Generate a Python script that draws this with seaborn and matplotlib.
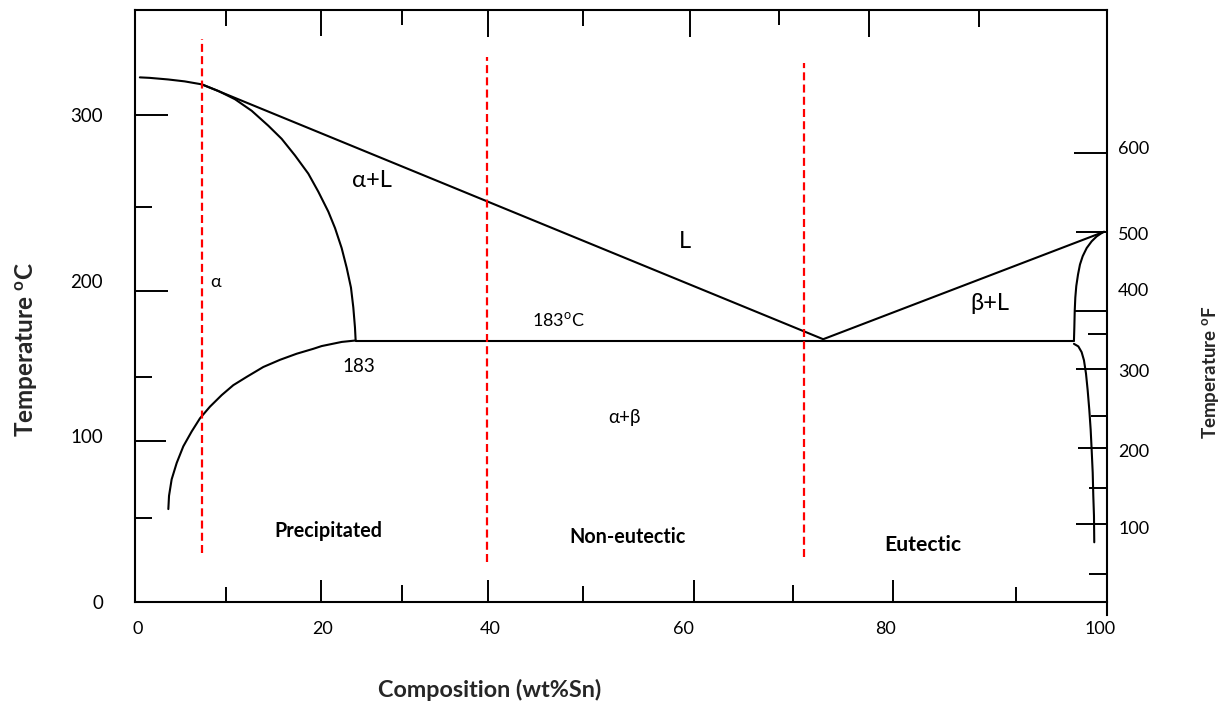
import matplotlib
matplotlib.use("Agg")
import matplotlib.pyplot as plt
import seaborn as sns
import pandas as pd

# ---------------- data (wt% Sn vs temperature scale of the drawing) --------
liq_left_x = [0.5, 1.5, 3.4, 5.1, 6.9, 70.8]
liq_left_y = [325.5, 325.2, 324.2, 323.0, 321.1, 161.5]
liq_right_x = [70.8, 99.7]
liq_right_y = [161.5, 228.8]
sol_left_x = [6.86, 8.57, 10.29, 12.0, 13.72, 15.09, 16.46, 17.83, 18.86, 19.89, 20.58,
              21.26, 21.78, 22.22, 22.46, 22.63, 22.7]
sol_left_y = [321.1, 317.0, 311.8, 304.6, 295.2, 287.0, 276.6, 265.2, 253.9, 241.4, 231.1,
              218.6, 206.2, 193.8, 181.4, 168.9, 160.7]
solvus_left_x = [3.43, 3.50, 3.77, 4.29, 4.97, 5.83, 6.69, 7.72, 8.92, 10.11, 11.49, 13.2,
                 14.92, 16.63, 18.35, 19.2, 21.27, 22.7]
solvus_left_y = [55.1, 63.4, 73.7, 84.0, 94.4, 103.7, 112.0, 119.3, 126.5, 132.7, 137.9, 144.1,
                 148.6, 152.4, 155.5, 157.2, 159.8, 160.7]
sol_right_x = [99.7, 99.45, 98.94, 98.42, 97.91, 97.50, 97.22, 97.02, 96.84, 96.74, 96.68,
               96.64, 96.6]
sol_right_y = [228.8, 228.0, 225.9, 222.8, 218.6, 213.5, 208.3, 202.1, 194.8, 187.6, 179.3,
               168.9, 160.7]
solvus_right_x = [96.6, 97.05, 97.39, 97.63, 97.84, 98.01, 98.18, 98.32, 98.42, 98.53, 98.59,
                  98.66, 98.69]
solvus_right_y = [158.6, 157.0, 153.4, 148.3, 139.9, 129.6, 117.2, 104.8, 92.4, 77.8, 63.4,
                  50.9, 34.3]
eutectic_x = [22.7, 96.6]
eutectic_y = [160.2, 160.2]

divider_x = [6.9, 36.2, 68.8]
divider_lo = [27.3, 21.7, 24.8]
divider_hi = [349.7, 338.5, 334.2]

# tick labels
x_label_pos = [0.3, 19.3, 36.5, 56.4, 77.2, 99.3]
x_labels = ["0", "20", "40", "60", "80", "100"]
yC_label_pos = [-3.1, 100.6, 198.1, 301.9]
yC_labels = ["0", "100", "200", "300"]
yF_label_pos = [46.0, 94.4, 143.5, 193.8, 228.6, 282.0]
yF_labels = ["100", "200", "300", "400", "500", "600"]

# tick marks (position, length in px)
bottom_ticks = [9.36, 19.14, 27.47, 36.32, 46.09, 57.51, 67.70, 77.98, 90.64]
bottom_len = [15, 22, 17, 22, 16, 22, 17, 22, 15]
top_ticks = [9.36, 19.14, 27.47, 36.32, 46.09, 57.1, 66.26, 75.51, 86.83]
top_len = [16, 26, 15, 27, 16, 27, 15, 27, 17]
left_ticks = [49.7, 97.5, 137.9, 191.9, 244.1, 301.9]
left_len = [17, 31, 17, 33, 17, 33]
right_ticks = [14.3, 46.0, 68.3, 93.2, 113.7, 142.9, 164.6, 178.9, 228.6, 278.3]
right_len = [18, 31, 18, 29, 16, 31, 19, 33, 31, 33]

region_labels = [("α+L", 24.4, 260.9, 17, "normal"), ("L", 56.6, 223.0, 17, "normal"),
                 ("β+L", 88.0, 183.9, 17, "normal"), ("α", 8.3, 197.5, 13, "normal"),
                 ("183$^{\\mathrm{o}}$C", 43.6, 173.3, 13, "normal"), ("183", 23.0, 144.7, 13.5, "normal"),
                 ("α+β", 50.4, 112.4, 13.5, "normal"),
                 ("Precipitated", 19.9, 41.6, 14.2, "bold"), ("Non-eutectic", 50.7, 37.3, 14.2, "bold"),
                 ("Eutectic", 81.0, 32.9, 15.2, "bold")]

# ---------------- style ----------------
sns.set_theme(style="white")
FAM = ["Lato", "DejaVu Sans"]
plt.rcParams["font.family"] = FAM
plt.rcParams["mathtext.fontset"] = "custom"
plt.rcParams["mathtext.rm"] = "Lato"
plt.rcParams["mathtext.bf"] = "Lato:bold"
plt.rcParams["axes.edgecolor"] = "black"

fig = plt.figure(figsize=(12.31, 7.04), dpi=100)
ax = fig.add_axes([135 / 1231, 102 / 704, 972 / 1231, 592 / 704])
YMAX = 592 / 1.61
ax.set_xlim(0, 100)
ax.set_ylim(0, YMAX)
AX_W, AX_H = 972.0, 592.0

def curve(xs, ys, **kw):
    df = pd.DataFrame({"x": xs, "y": ys})
    sns.lineplot(data=df, x="x", y="y", sort=False, estimator=None, ax=ax, **kw)

for xs, ys in [(liq_left_x, liq_left_y), (liq_right_x, liq_right_y), (sol_left_x, sol_left_y),
               (solvus_left_x, solvus_left_y), (sol_right_x, sol_right_y),
               (solvus_right_x, solvus_right_y), (eutectic_x, eutectic_y)]:
    curve(xs, ys, color="black", linewidth=1.5)

for dx, lo, hi in zip(divider_x, divider_lo, divider_hi):
    curve([dx, dx], [lo, hi], color="#ff0000", linewidth=1.6, dashes=False,
          linestyle=(0, (3.6, 1.9)))

for txt, tx, ty, fs, fw in region_labels:
    ax.text(tx, ty, txt, ha="center", va="center", fontsize=fs, fontweight=fw, color="black")

# spines
for s in ax.spines.values():
    s.set_linewidth(1.5)
    s.set_color("black")
ax.spines["right"].set_bounds(-11.2, YMAX)

# tick marks
xt = ax.get_xaxis_transform()
yt = ax.get_yaxis_transform()
ax.vlines(bottom_ticks, 0, [l / AX_H for l in bottom_len], transform=xt, color="black", lw=1.4)
ax.vlines(top_ticks, [1 - l / AX_H for l in top_len], 1, transform=xt, color="black", lw=1.4)
ax.hlines(left_ticks, 0, [l / AX_W for l in left_len], transform=yt, color="black", lw=1.4)
ax.hlines(right_ticks, [1 - l / AX_W for l in right_len], 1, transform=yt, color="black", lw=1.4)

# tick labels
ax.set_xticks(x_label_pos, x_labels)
ax.set_yticks(yC_label_pos, yC_labels)
ax.tick_params(axis="x", length=0, pad=14, labelsize=13, colors="black")
ax.tick_params(axis="y", length=0, pad=23, labelsize=13.5, colors="black")
ax2 = ax.twinx()
ax2.set_ylim(0, YMAX)
ax2.set_yticks(yF_label_pos, yF_labels)
ax2.tick_params(axis="y", length=0, pad=8, labelsize=13, colors="black")
for s in ax2.spines.values():
    s.set_visible(False)
ax.grid(False)
ax2.grid(False)
ax.set_xlabel("")
ax.set_ylabel("")

fig.text(490 / 1231, 1 - 690 / 704, "Composition (wt%Sn)", ha="center", va="center",
         fontsize=16.8, fontweight="bold")
fig.text(27 / 1231, 1 - 350 / 704, "Temperature $^{\\mathbf{o}}$C", ha="center", va="center",
         rotation=90, fontsize=17.5, fontweight="bold")
fig.text(1211 / 1231, 1 - 372 / 704, "Temperature $^{\\mathbf{o}}$F", ha="center", va="center",
         rotation=90, fontsize=13.5, fontweight="bold")

fig.savefig("out.png", dpi=100)
